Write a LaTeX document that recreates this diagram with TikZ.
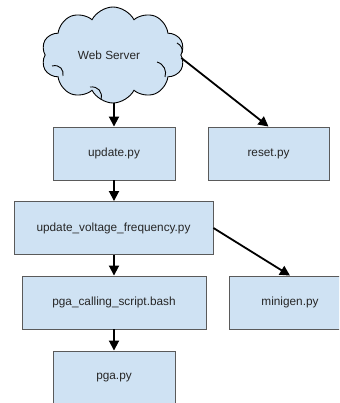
\documentclass[tikz,border=0pt]{standalone}
\usepackage{fontspec}
\setmainfont{Liberation Sans}
\usetikzlibrary{shapes.symbols,arrows.meta}
\definecolor{boxfill}{HTML}{CFE2F3}
\definecolor{boxline}{HTML}{5A5A5A}
\definecolor{txt}{HTML}{262626}
\tikzset{
  stepbox/.style={draw=boxline, line width=0.9pt, fill=boxfill, text=txt,
    minimum height=53pt, inner sep=0pt, font=\fontsize{11.8}{14}\selectfont},
  serverc/.style={cloud, cloud puffs=10, cloud puff arc=125, aspect=1.5,
    draw=black, line width=0.9pt, fill=boxfill, text=txt,
    minimum width=143pt, minimum height=96pt, inner sep=0pt,
    font=\fontsize{11.8}{14}\selectfont},
  curl/.style={draw=black, line width=0.9pt},
  flow/.style={draw=black, line width=1.8pt, -{Triangle[length=10pt,width=10pt]}}
}
\begin{document}
\begin{tikzpicture}[x=1pt,y=-1pt]
  \path[use as bounding box, clip] (0,0) rectangle (339,403);
  \fill[white] (0,0) rectangle (339,403);

  \node[serverc] (web) at (113,55) {};
  \node[text=txt, font=\fontsize{11.8}{14}\selectfont] (weblabel) at (109,55) {Web Server};

  % inner curls of the cloud outline
  \draw[curl] (52,66) .. controls (60,64) and (64,70) .. (63,76);
  \draw[curl] (90,87) .. controls (98,86) and (103,92) .. (101,99);
  \draw[curl] (157,62) .. controls (164,64) and (167,71) .. (165,77);
  \draw[curl] (177,43) .. controls (181,45) and (183,49) .. (182,53);

  \node[stepbox, minimum width=122pt] (upd) at (114,153.5) {update.py};
  \node[stepbox, minimum width=121pt] (reset) at (268.5,153.5) {reset.py};
  \node[stepbox, minimum width=199pt] (uvf) at (113.5,228) {update\_voltage\_frequency.py};
  \node[stepbox, minimum width=184pt] (call) at (114,302.5) {pga\_calling\_script.bash};
  \node[stepbox, minimum width=122pt] (mini) at (290,302.5) {minigen.py};
  \node[stepbox, minimum width=122pt] (pga) at (114,377.5) {pga.py};

  \coordinate (webout) at ([yshift=-3pt]web.east);

  \draw[flow] (web.south -| upd.north) -- (upd.north);
  \draw[flow] (webout) -- (reset.north);
  \draw[flow] (upd.south) -- (uvf.north -| upd.south);
  \draw[flow] (uvf.south -| call.north) -- (call.north);
  \draw[flow] (uvf.east) -- (mini.north);
  \draw[flow] (call.south) -- (pga.north);
\end{tikzpicture}
\end{document}
